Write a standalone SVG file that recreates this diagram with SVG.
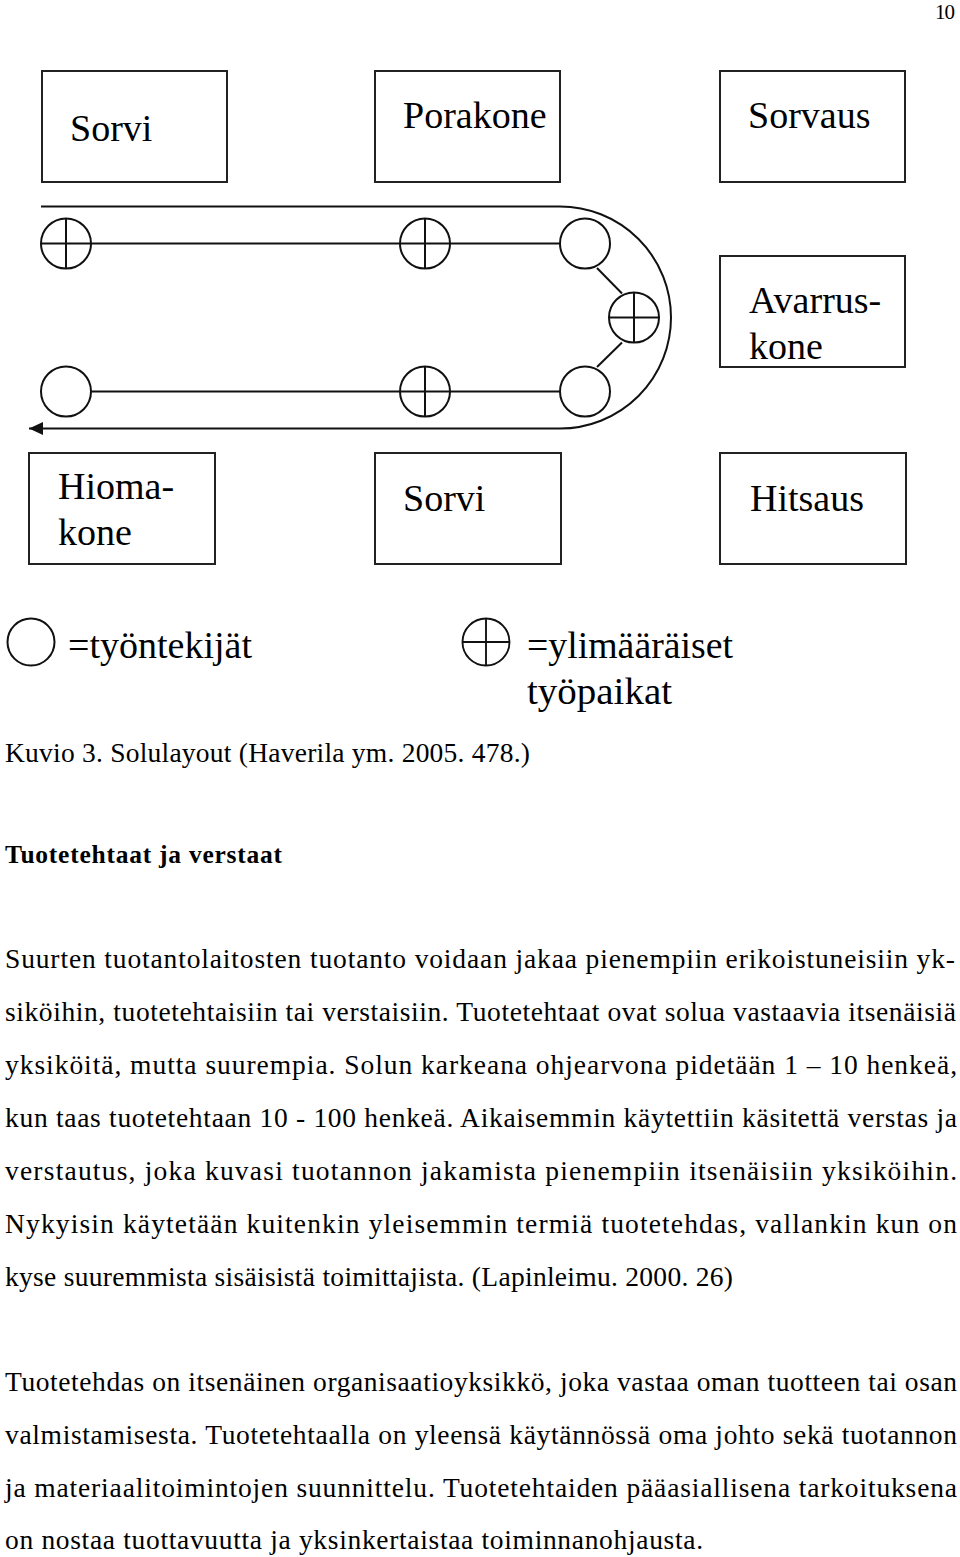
<svg xmlns="http://www.w3.org/2000/svg" width="960" height="1557" viewBox="0 0 960 1557">
<style>
.box{fill:#fff;stroke:#222;stroke-width:2}
.lbl{font-family:"Liberation Serif",serif;font-size:38px;fill:#000}
.ln{fill:none;stroke:#111;stroke-width:2}
.c{fill:#fff;stroke:#111;stroke-width:2}
.leg{font-family:"Liberation Serif",serif;font-size:37px;fill:#000}
.body{font-family:"Liberation Serif",serif;font-size:27.5px;fill:#000}
.head{font-family:"Liberation Serif",serif;font-size:25.5px;font-weight:bold;fill:#000}
</style>
<defs>
<marker id="arr" markerWidth="16" markerHeight="16" refX="14" refY="8" orient="auto" markerUnits="userSpaceOnUse">
<path d="M0,1.5 L14,8 L0,14.5 Z" fill="#111"/>
</marker>
<g id="wp"><circle class="c" cx="0" cy="0" r="25"/><line class="ln" x1="-25" y1="0" x2="25" y2="0"/><line class="ln" x1="0" y1="-25" x2="0" y2="25"/></g>
</defs>
<rect width="960" height="1557" fill="#fff"/>
<text x="935" y="19" font-family="Liberation Serif, serif" font-size="21" textLength="20">10</text>

<g id="connectors">
<path class="ln" d="M41,206.5 L560,206.5 A111,111 0 0 1 560,428.5 L29,428.5" marker-end="url(#arr)"/>
<line class="ln" x1="91" y1="243.5" x2="560" y2="243.5"/>
<line class="ln" x1="91" y1="391.5" x2="560" y2="391.5"/>
<line class="ln" x1="597" y1="268" x2="622" y2="293.5"/>
<line class="ln" x1="622" y1="342.5" x2="597" y2="367"/>
</g>

<g id="box-sorvi1"><rect class="box" x="42" y="71" width="185" height="111"/><text class="lbl" x="70" y="141">Sorvi</text></g>
<g id="box-porakone"><rect class="box" x="375" y="71" width="185" height="111"/><text class="lbl" x="403" y="128">Porakone</text></g>
<g id="box-sorvaus"><rect class="box" x="720" y="71" width="185" height="111"/><text class="lbl" x="748" y="128">Sorvaus</text></g>
<g id="box-avarruskone"><rect class="box" x="720" y="256" width="185" height="111"/><text class="lbl" x="749" y="313">Avarrus-</text><text class="lbl" x="749" y="359">kone</text></g>
<g id="box-hiomakone"><rect class="box" x="29" y="453" width="186" height="111"/><text class="lbl" x="58" y="499">Hioma-</text><text class="lbl" x="58" y="545">kone</text></g>
<g id="box-sorvi2"><rect class="box" x="375" y="453" width="186" height="111"/><text class="lbl" x="403" y="511">Sorvi</text></g>
<g id="box-hitsaus"><rect class="box" x="720" y="453" width="186" height="111"/><text class="lbl" x="750" y="511">Hitsaus</text></g>

<g id="w-top-left"><use href="#wp" x="66" y="243.5"/></g>
<g id="w-top-mid"><use href="#wp" x="425" y="243.5"/></g>
<g id="w-top-right"><circle class="c" cx="585" cy="243.5" r="25"/></g>
<g id="w-mid-right"><use href="#wp" x="634" y="317.5"/></g>
<g id="w-bot-left"><circle class="c" cx="66" cy="391.5" r="25"/></g>
<g id="w-bot-mid"><use href="#wp" x="425" y="391.5"/></g>
<g id="w-bot-right"><circle class="c" cx="585" cy="391.5" r="25"/></g>

<g id="legend-worker"><circle class="c" cx="31" cy="642" r="23.5"/><text class="leg" x="68" y="658" textLength="184" lengthAdjust="spacingAndGlyphs">=työntekijät</text></g>
<g id="legend-extra"><g transform="translate(486,642) scale(0.94)"><use href="#wp"/></g><text class="leg" x="527" y="658" textLength="206" lengthAdjust="spacingAndGlyphs">=ylimääräiset</text><text class="leg" x="527" y="704" textLength="145" lengthAdjust="spacingAndGlyphs">työpaikat</text></g>

<text class="body" x="5" y="762" textLength="525">Kuvio 3. Solulayout (Haverila ym. 2005. 478.)</text>
<text class="head" x="5" y="863" textLength="277">Tuotetehtaat ja verstaat</text>

<g class="body">
<text x="5" y="968" textLength="950">Suurten tuotantolaitosten tuotanto voidaan jakaa pienempiin erikoistuneisiin yk-</text>
<text x="5" y="1021" textLength="951">siköihin, tuotetehtaisiin tai verstaisiin. Tuotetehtaat ovat solua vastaavia itsenäisiä</text>
<text x="5" y="1074" textLength="952">yksiköitä, mutta suurempia. Solun karkeana ohjearvona pidetään 1 – 10 henkeä,</text>
<text x="5" y="1127" textLength="952">kun taas tuotetehtaan 10 - 100 henkeä. Aikaisemmin käytettiin käsitettä verstas ja</text>
<text x="5" y="1180" textLength="952">verstautus, joka kuvasi tuotannon jakamista pienempiin itsenäisiin yksiköihin.</text>
<text x="5" y="1233" textLength="952">Nykyisin käytetään kuitenkin yleisemmin termiä tuotetehdas, vallankin kun on</text>
<text x="5" y="1286" textLength="728">kyse suuremmista sisäisistä toimittajista. (Lapinleimu. 2000. 26)</text>
<text x="5" y="1391" textLength="952">Tuotetehdas on itsenäinen organisaatioyksikkö, joka vastaa oman tuotteen tai osan</text>
<text x="5" y="1444" textLength="952">valmistamisesta. Tuotetehtaalla on yleensä käytännössä oma johto sekä tuotannon</text>
<text x="5" y="1497" textLength="952">ja materiaalitoimintojen suunnittelu. Tuotetehtaiden pääasiallisena tarkoituksena</text>
<text x="5" y="1549" textLength="698">on nostaa tuottavuutta ja yksinkertaistaa toiminnanohjausta.</text>
</g>
</svg>
